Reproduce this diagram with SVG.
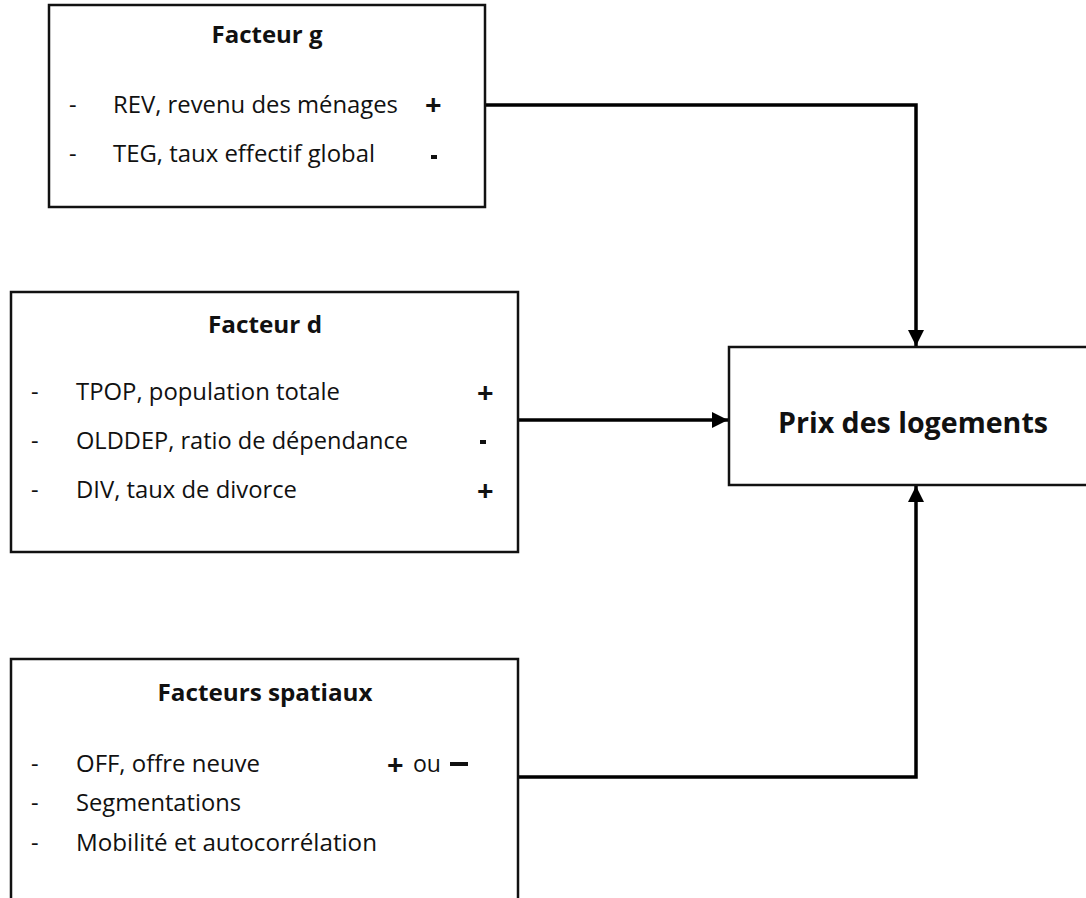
<svg xmlns="http://www.w3.org/2000/svg" width="1086" height="898" viewBox="0 0 1086 898">
<style>
.box{fill:#fff;stroke:#111;stroke-width:2.5}
.t{font-family:"Open Sans","Liberation Sans",sans-serif;font-size:23.5px;fill:#111}
.b{font-family:"Open Sans","Liberation Sans",sans-serif;font-size:24px;font-weight:bold;fill:#111}
.s{font-family:"Open Sans","Liberation Sans",sans-serif;font-size:29px;font-weight:bold;fill:#111}
.big{font-family:"Open Sans","Liberation Sans",sans-serif;font-size:29px;font-weight:bold;fill:#111}
.c{fill:none;stroke:#000;stroke-width:3.5}
</style>
<defs>
<marker id="ah" markerUnits="userSpaceOnUse" markerWidth="18" markerHeight="18" refX="16" refY="8" orient="auto">
<path d="M0,0 L16,8 L0,16 Z" fill="#000"/>
</marker>
</defs>
<rect width="1086" height="898" fill="#fff"/>
<g id="connectors">
<polyline class="c" points="485,105 916,105 916,346" marker-end="url(#ah)"/>
<line class="c" x1="518" y1="420" x2="728" y2="420" marker-end="url(#ah)"/>
<polyline class="c" points="518,777 916,777 916,486" marker-end="url(#ah)"/>
</g>
<g id="facteur-g">
<rect class="box" x="49" y="5" width="436" height="202"/>
<text class="b" x="267" y="43" text-anchor="middle" textLength="111" lengthAdjust="spacingAndGlyphs">Facteur g</text>
<text class="t" x="69" y="113">-</text>
<text class="t" x="113" y="113" textLength="285" lengthAdjust="spacingAndGlyphs">REV, revenu des ménages</text>
<text class="s" x="425" y="115">+</text>
<text class="t" x="69" y="162">-</text>
<text class="t" x="113" y="162" textLength="262" lengthAdjust="spacingAndGlyphs">TEG, taux effectif global</text>
<rect x="431" y="155" width="6" height="4" fill="#111"/>
</g>
<g id="facteur-d">
<rect class="box" x="11" y="292" width="507" height="260"/>
<text class="b" x="265" y="333" text-anchor="middle" textLength="114" lengthAdjust="spacingAndGlyphs">Facteur d</text>
<text class="t" x="31" y="400">-</text>
<text class="t" x="76" y="400" textLength="264" lengthAdjust="spacingAndGlyphs">TPOP, population totale</text>
<text class="s" x="477" y="403">+</text>
<text class="t" x="31" y="449">-</text>
<text class="t" x="76" y="449" textLength="332" lengthAdjust="spacingAndGlyphs">OLDDEP, ratio de dépendance</text>
<rect x="480" y="440" width="6" height="4" fill="#111"/>
<text class="t" x="31" y="498">-</text>
<text class="t" x="76" y="498" textLength="221" lengthAdjust="spacingAndGlyphs">DIV, taux de divorce</text>
<text class="s" x="477" y="501">+</text>
</g>
<g id="facteurs-spatiaux">
<rect class="box" x="11" y="659" width="507" height="250"/>
<text class="b" x="265" y="701" text-anchor="middle" textLength="215" lengthAdjust="spacingAndGlyphs">Facteurs spatiaux</text>
<text class="t" x="31" y="772">-</text>
<text class="t" x="76" y="772" textLength="184" lengthAdjust="spacingAndGlyphs">OFF, offre neuve</text>
<text class="s" x="387" y="775">+</text>
<text class="t" x="413" y="772" textLength="28" lengthAdjust="spacingAndGlyphs">ou</text>
<rect x="450" y="762" width="18" height="4" fill="#111"/>
<text class="t" x="31" y="811">-</text>
<text class="t" x="76" y="811" textLength="165" lengthAdjust="spacingAndGlyphs">Segmentations</text>
<text class="t" x="31" y="851">-</text>
<text class="t" x="76" y="851" textLength="301" lengthAdjust="spacingAndGlyphs">Mobilité et autocorrélation</text>
</g>
<g id="prix">
<rect class="box" x="729" y="347" width="370" height="138"/>
<text class="big" x="778" y="433" textLength="270" lengthAdjust="spacingAndGlyphs">Prix des logements</text>
</g>
</svg>
